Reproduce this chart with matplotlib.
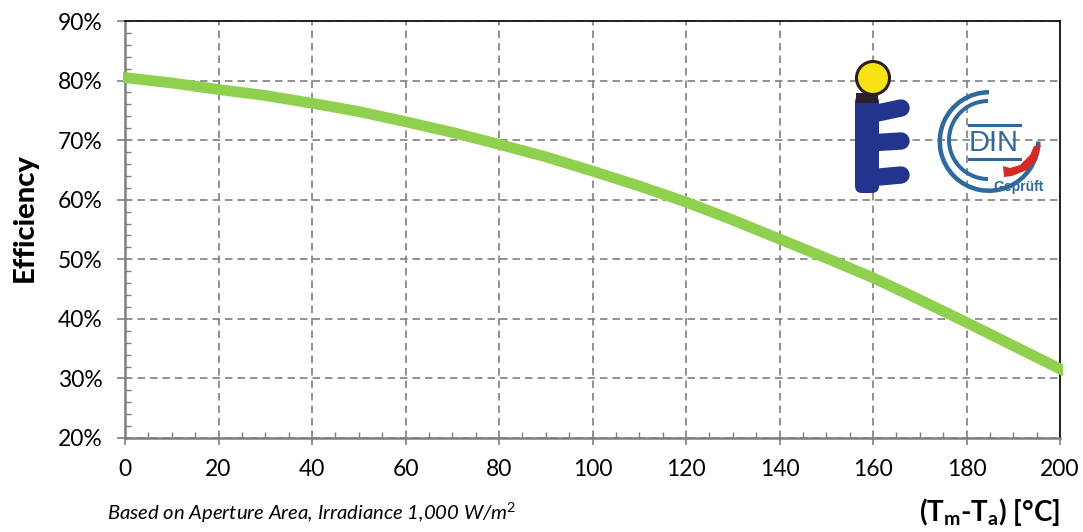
import matplotlib
matplotlib.use("Agg")
import matplotlib.pyplot as plt
from matplotlib.patches import Circle, Wedge, Polygon, Rectangle, FancyBboxPatch
from matplotlib.ticker import MultipleLocator, FuncFormatter
from matplotlib.transforms import IdentityTransform

plt.rcParams['font.family'] = ['Lato', 'Open Sans', 'DejaVu Sans']
plt.rcParams['mathtext.fontset'] = 'custom'
plt.rcParams['mathtext.rm'] = 'Lato'
plt.rcParams['mathtext.it'] = 'Lato:italic'
plt.rcParams['mathtext.bf'] = 'Lato:bold'

temps = [0, 10, 20, 30, 40, 50, 60, 70, 80, 90, 100, 110, 120, 130, 140, 150, 160, 170, 180, 190, 200]
efficiency = [80.5, 79.6, 78.5, 77.5, 76.2, 74.8, 73.1, 71.3, 69.3, 67.2, 64.8, 62.3, 59.6, 56.6, 53.4, 50.2, 46.9, 43.2, 39.4, 35.5, 31.6]
x_ticks = [0, 20, 40, 60, 80, 100, 120, 140, 160, 180, 200]
y_ticks = [20, 30, 40, 50, 60, 70, 80, 90]

W, H = 1083, 532
fig = plt.figure(figsize=(W/100, H/100), dpi=100)
ax = fig.add_axes([125/W, 1-438/H, (1060-125)/W, (438-21)/H])
ax.set_xlim(0, 200)
ax.set_ylim(20, 90)
line, = ax.plot(temps, efficiency, color='#8fd14f', lw=7.8, solid_capstyle='projecting', solid_joinstyle='round', zorder=3)
line.set_clip_path(Rectangle((123, 0), 940, H, transform=IdentityTransform()))
ax.grid(True, color='#7f7f7f', ls=(0, (4.5, 3)), lw=1.2)
ax.set_axisbelow(True)
ax.set_xticks(x_ticks)
ax.set_yticks(y_ticks)
ax.yaxis.set_major_formatter(FuncFormatter(lambda v, p: f'{int(v)}%'))
ax.xaxis.set_minor_locator(MultipleLocator(5))
ax.yaxis.set_minor_locator(MultipleLocator(2))
ax.tick_params(axis='x', which='major', direction='out', length=5, width=1.2, color='#7f7f7f', labelsize=16.5, labelcolor='black', pad=10)
ax.tick_params(axis='y', which='major', direction='out', length=6, width=1.2, color='#7f7f7f', labelsize=16.5, labelcolor='black', pad=10)
ax.tick_params(which='minor', direction='in', length=4, width=1.0, color='#7f7f7f')
ax.spines['left'].set_color('#7f7f7f')
ax.spines['bottom'].set_color('#7f7f7f')
ax.spines['left'].set_linewidth(1.8)
ax.spines['bottom'].set_linewidth(1.8)
ax.spines['top'].set_color('#111111')
ax.spines['right'].set_color('#111111')
ax.spines['top'].set_linewidth(1.3)
ax.spines['right'].set_linewidth(1.3)

fig.text(25/W, 1-218/H, 'Efficiency', rotation=90, fontsize=21, fontweight='black', ha='center', va='center')
fig.text(1060/W, 1-512/H, r'(T$_{\mathbf{m}}$-T$_{\mathbf{a}}$) [°C]', fontsize=20, fontweight='bold', ha='right', va='center')
fig.text(107/W, 1-513/H, r'Based on Aperture Area, Irradiance 1,000 W/m$^{\mathit{2}}$', fontsize=14.6, style='italic', ha='left', va='center')

ov = fig.add_axes([0, 0, 1, 1])
ov.set_xlim(0, W)
ov.set_ylim(H, 0)
ov.axis('off')
ov.patch.set_alpha(0)
blue = '#23348c'
steel = '#2f6a9e'
# E logo: thick rounded stem and prongs
ov.add_patch(FancyBboxPatch((860, 100), 14, 88, boxstyle='round,pad=5,rounding_size=7', fc=blue, ec='none'))
ov.add_patch(Rectangle((856, 93), 22, 10, fc='#2a1f2a', ec='none'))
for ya, yb in [(115, 108), (143, 141), (178, 175)]:
    ov.plot([868, 901], [ya, yb], color=blue, lw=12.5, solid_capstyle='round')
ov.add_patch(Circle((873, 78), 16.5, fc='#f7e315', ec='#2a1f1a', lw=2.2, zorder=5))
# DIN logo
ov.add_patch(Wedge((989, 141.5), 51.5, 0, 270, width=4.5, fc=steel, ec='none'))
ov.add_patch(Wedge((988, 140), 41, 90, 270, width=4, fc=steel, ec='none'))
ov.text(994, 143, 'DIN', fontsize=21, color=steel, ha='center', va='center', family='Liberation Sans')
ov.plot([969, 1020], [125, 125], color=steel, lw=2.2)
ov.plot([969, 1020], [159, 159], color=steel, lw=2.2)
ov.add_patch(Polygon([(1041, 145), (1037, 160), (1027, 170), (1012, 176), (1004, 177), (1003, 166), (1010, 168), (1020, 165), (1030, 155), (1034, 146)], closed=True, fc='#d42a26', ec='none', zorder=5))
ov.text(1019, 187, 'Geprüft', fontsize=10, color=steel, ha='center', va='center', family='Liberation Sans', fontweight='bold')

fig.savefig('out.png', dpi=100)
